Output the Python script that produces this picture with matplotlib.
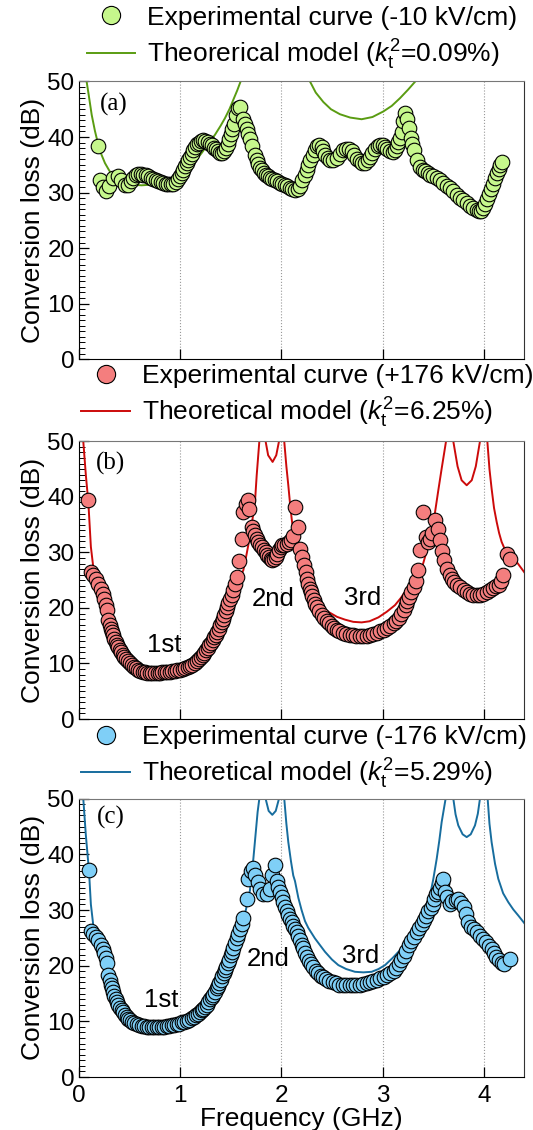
import matplotlib
matplotlib.use("Agg")
import matplotlib.pyplot as plt
from matplotlib.ticker import MultipleLocator

plt.rcParams['font.family'] = ['Liberation Sans', 'DejaVu Sans']
plt.rcParams['mathtext.fontset'] = 'custom'
plt.rcParams['mathtext.rm'] = 'Liberation Sans'
plt.rcParams['mathtext.it'] = 'Liberation Sans:italic'

# ---- (a) -10 kV/cm ----
exp_a_f = [0.193, 0.21, 0.243, 0.27, 0.30, 0.341, 0.384, 0.42, 0.457, 0.49, 0.515, 0.539, 0.563,
           0.588, 0.612, 0.637, 0.662, 0.687, 0.711, 0.736, 0.761, 0.786, 0.81, 0.835, 0.86,
           0.885, 0.91, 0.934, 0.958, 0.983, 1.0, 1.016, 1.033, 1.049, 1.066, 1.082, 1.099,
           1.115, 1.132, 1.148, 1.168, 1.187, 1.208, 1.23, 1.251, 1.272, 1.292, 1.312, 1.332,
           1.352, 1.373, 1.394, 1.415, 1.437, 1.455, 1.47, 1.487, 1.503, 1.517, 1.53, 1.553,
           1.575, 1.592, 1.625, 1.642, 1.658, 1.675, 1.691, 1.714, 1.74, 1.757, 1.773, 1.79,
           1.806, 1.825, 1.845, 1.866, 1.888, 1.912, 1.937, 1.962, 1.987, 2.01, 2.036, 2.06,
           2.085, 2.11, 2.135, 2.16, 2.184, 2.208, 2.233, 2.25, 2.266, 2.288, 2.309, 2.33,
           2.349, 2.374, 2.398, 2.415, 2.431, 2.456, 2.48, 2.513, 2.546, 2.58, 2.612, 2.642,
           2.671, 2.695, 2.718, 2.748, 2.777, 2.8, 2.826, 2.851, 2.876, 2.9, 2.925, 2.95,
           2.975, 3.0, 3.024, 3.048, 3.073, 3.098, 3.123, 3.14, 3.155, 3.172, 3.188, 3.205,
           3.221, 3.244, 3.26, 3.277, 3.294, 3.31, 3.337, 3.37, 3.395, 3.419, 3.444, 3.469,
           3.5, 3.535, 3.567, 3.6, 3.633, 3.666, 3.699, 3.732, 3.765, 3.798, 3.83, 3.863,
           3.896, 3.929, 3.95, 3.969, 3.99, 4.012, 4.033, 4.055, 4.075, 4.094, 4.11, 4.127,
           4.145, 4.16, 4.18]
exp_a_db = [38.3, 32.2, 31.0, 30.3, 31.2, 32.7, 33.0, 32.2, 31.3, 31.4, 32.1, 32.7, 33.2,
            33.4, 33.4, 33.2, 33.1, 32.9, 32.7, 32.5, 32.3, 32.0, 31.9, 31.7, 31.6,
            31.5, 31.5, 31.6, 31.9, 32.4, 32.9, 33.5, 34.1, 34.7, 35.3, 35.8, 36.4,
            37.0, 37.6, 38.2, 38.7, 39.0, 39.3, 39.4, 39.3, 39.1, 38.8, 38.5, 38.1,
            37.8, 37.5, 37.2, 37.1, 37.4, 38.1, 38.8, 39.7, 40.6, 41.4, 42.3, 43.9,
            45.2, 45.4, 43.3, 42.3, 41.4, 40.5, 39.7, 38.4, 36.8, 35.9, 35.1, 34.5,
            34.0, 33.5, 33.2, 32.9, 32.6, 32.4, 32.2, 32.0, 31.8, 31.6, 31.4, 31.1,
            30.9, 30.6, 30.5, 30.6, 31.2, 32.2, 33.1, 34.0, 35.0, 35.9, 36.8, 37.6,
            38.3, 38.5, 38.2, 37.5, 36.8, 36.2, 35.9, 35.9, 36.2, 36.9, 37.6, 37.9,
            37.8, 37.4, 36.8, 36.1, 35.6, 35.3, 35.4, 35.8, 36.4, 37.1, 37.8, 38.3,
            38.5, 38.5, 38.2, 37.8, 37.4, 37.3, 37.7, 38.3, 39.1, 39.9, 40.9, 42.8,
            44.3, 43.3, 41.6, 39.8, 38.7, 37.7, 35.9, 34.6, 34.1, 33.8, 33.5, 33.2,
            32.9, 32.6, 32.2, 31.7, 31.2, 30.8, 30.2, 29.6, 29.1, 28.6, 28.1, 27.6,
            27.2, 26.8, 26.6, 26.7, 27.2, 28.0, 28.9, 29.8, 30.7, 31.6, 32.6, 33.5,
            34.3, 35.0, 35.5]
th_a_f = [0.05, 0.078, 0.10, 0.128, 0.16, 0.193, 0.225, 0.259, 0.30, 0.341, 0.40, 0.457, 0.54,
          0.621, 0.70, 0.80, 0.90, 1.0, 1.1, 1.16, 1.213, 1.28, 1.345, 1.40, 1.444, 1.49,
          1.526, 1.565, 1.598, 1.65, 1.95, 2.23, 2.283, 2.34, 2.415, 2.49, 2.579, 2.68,
          2.793, 2.90, 3.007, 3.09, 3.172, 3.25, 3.337, 3.40, 4.4]
th_a_db = [65, 50, 47.4, 44.0, 41.1, 38.6, 36.8, 35.3, 34.0, 32.9, 32.1, 31.7, 31.4,
           31.3, 31.4, 31.7, 32.3, 33.2, 34.7, 35.9, 37.1, 38.8, 40.4, 42.0, 43.4, 45.1,
           46.7, 48.4, 50, 53, 70, 53, 50, 48.0, 46.3, 45.0, 44.1, 43.5,
           43.2, 43.6, 44.6, 45.6, 47.0, 48.5, 50.3, 54, 90]

# ---- (b) +176 kV/cm ----
exp_b_f = [0.095, 0.121, 0.144, 0.167, 0.193, 0.22, 0.237, 0.252, 0.265, 0.276, 0.292, 0.305,
           0.318, 0.33, 0.341, 0.353, 0.364, 0.378, 0.391, 0.404, 0.417, 0.433, 0.45, 0.466,
           0.483, 0.502, 0.522, 0.542, 0.562, 0.583, 0.605, 0.63, 0.654, 0.678, 0.703, 0.728,
           0.753, 0.778, 0.802, 0.827, 0.852, 0.876, 0.901, 0.925, 0.95, 0.975, 1.0, 1.025,
           1.049, 1.074, 1.098, 1.123, 1.148, 1.168, 1.187, 1.205, 1.223, 1.24, 1.256, 1.272,
           1.289, 1.305, 1.322, 1.337, 1.352, 1.368, 1.384, 1.398, 1.411, 1.424, 1.437, 1.45,
           1.463, 1.478, 1.493, 1.51, 1.526, 1.543, 1.559, 1.582, 1.608, 1.625, 1.652, 1.667,
           1.681, 1.707, 1.724, 1.74, 1.757, 1.773, 1.792, 1.812, 1.828, 1.845, 1.862, 1.878,
           1.895, 1.911, 1.93, 1.947, 1.962, 1.977, 1.993, 2.01, 2.03, 2.052, 2.074, 2.095,
           2.115, 2.14, 2.165, 2.188, 2.208, 2.228, 2.242, 2.255, 2.267, 2.279, 2.292, 2.305,
           2.318, 2.332, 2.352, 2.373, 2.398, 2.423, 2.448, 2.473, 2.498, 2.523, 2.548, 2.574,
           2.607, 2.641, 2.675, 2.708, 2.741, 2.775, 2.808, 2.842, 2.875, 2.909, 2.942, 2.976,
           3.01, 3.043, 3.076, 3.11, 3.135, 3.16, 3.185, 3.21, 3.227, 3.244, 3.264, 3.284,
           3.306, 3.328, 3.351, 3.37, 3.395, 3.43, 3.45, 3.467, 3.49, 3.516, 3.543, 3.566,
           3.59, 3.609, 3.632, 3.665, 3.686, 3.708, 3.73, 3.764, 3.8, 3.83, 3.863, 3.896,
           3.93, 3.961, 3.994, 4.027, 4.06, 4.093, 4.12, 4.149, 4.17, 4.192, 4.225, 4.258]
exp_b_db = [39.4, 26.5, 25.9, 25.3, 24.4, 23.5, 22.6, 21.7, 20.6, 19.6, 17.8, 17.0,
            16.3, 15.7, 15.1, 14.5, 13.9, 13.4, 13.0, 12.5, 12.1, 11.6, 11.2, 10.8,
            10.4, 10.0, 9.7, 9.4, 9.1, 8.9, 8.7, 8.5, 8.4, 8.3, 8.3, 8.3,
            8.3, 8.3, 8.3, 8.4, 8.4, 8.5, 8.5, 8.6, 8.7, 8.8, 8.9, 9.0,
            9.2, 9.4, 9.6, 9.8, 10.1, 10.4, 10.8, 11.1, 11.5, 11.9, 12.4, 12.8,
            13.3, 13.7, 14.2, 14.7, 15.2, 15.7, 16.3, 16.9, 17.5, 18.1, 18.8, 19.5,
            20.2, 20.9, 21.7, 22.4, 23.2, 24.3, 25.6, 28.5, 32.5, 37.3, 38.8, 39.4,
            37.9, 34.6, 33.8, 33.1, 32.5, 31.9, 31.4, 31.0, 30.5, 30.1, 29.6, 29.2,
            28.9, 28.6, 28.8, 29.2, 29.8, 30.4, 30.9, 31.3, 31.4, 31.5, 31.8, 32.2,
            33.0, 38.1, 34.6, 30.7, 29.1, 27.7, 26.4, 25.2, 24.3, 23.4, 22.8, 22.2,
            21.5, 20.8, 20.1, 19.4, 18.8, 18.2, 17.7, 17.3, 16.8, 16.4, 16.1, 15.8,
            15.5, 15.3, 15.2, 15.1, 15.0, 14.9, 15.0, 15.0, 15.1, 15.3, 15.5, 15.8,
            16.1, 16.4, 16.8, 17.3, 17.7, 18.2, 18.9, 19.7, 20.5, 21.3, 22.0, 22.8,
            23.8, 24.9, 26.8, 30.5, 37.2, 32.8, 31.8, 32.5, 33.5, 35.8, 34.3, 32.2,
            30.3, 28.6, 27.1, 25.9, 25.2, 24.7, 24.2, 23.8, 23.3, 22.9, 22.6, 22.4,
            22.3, 22.4, 22.6, 22.9, 23.2, 23.6, 23.9, 24.2, 24.8, 25.9, 29.8, 28.8]
th_b_f = [0.03, 0.045, 0.07, 0.095, 0.12, 0.144, 0.17, 0.2, 0.25, 0.3, 0.35, 0.4, 0.45, 0.5,
          0.6, 0.7, 0.8, 0.9, 1.0, 1.1, 1.2, 1.3, 1.4, 1.5, 1.55, 1.6, 1.625, 1.65, 1.674,
          1.707, 1.74, 1.757, 1.783, 1.80, 1.83, 1.845, 1.87, 1.914, 1.95, 1.977, 1.99, 2.02,
          2.029, 2.05, 2.069, 2.085, 2.102, 2.12, 2.135, 2.165, 2.2, 2.25, 2.30, 2.38, 2.464,
          2.55, 2.628, 2.71, 2.793, 2.87, 2.958, 3.04, 3.122, 3.18, 3.221, 3.3, 3.386, 3.452,
          3.49, 3.518, 3.55, 3.583, 3.626, 3.66, 3.68, 3.698, 3.74, 3.78, 3.83, 3.88, 3.92,
          3.961, 3.99, 4.02, 4.034, 4.055, 4.076, 4.1, 4.126, 4.15, 4.175, 4.22, 4.26, 4.323,
          4.4]
th_b_db = [60, 50, 44.0, 39.0, 31.0, 27.3, 25.8, 24.7, 21.2, 17.9, 15.3, 13.4, 12.0, 10.9,
           9.5, 8.9, 8.7, 8.9, 9.3, 10.0, 11.2, 13.2, 16.4, 20.5, 23.2, 25.8, 26.8, 29.0, 31.3,
           34.9, 39.1, 43.9, 50, 60, 60, 50, 47.5, 46.3, 47.5, 50, 60, 60,
           50, 45.5, 42.1, 39.0, 36.1, 33.5, 31.3, 28.5, 25.9, 23.5, 21.8, 20.3, 19.3,
           18.4, 17.9, 17.5, 17.4, 17.6, 18.3, 19.3, 20.5, 21.8, 22.9, 24.8, 27.1, 31.3,
           34.0, 37.3, 41.2, 45.1, 50, 60, 60, 50, 45.5, 43.0, 42.1, 43.0, 45.5,
           50, 60, 60, 50, 45.0, 41.5, 38.0, 35.5, 33.5, 31.9, 30.0, 29.2, 28.3,
           26.4]

# ---- (c) -176 kV/cm ----
exp_c_f = [0.101, 0.121, 0.144, 0.167, 0.193, 0.22, 0.237, 0.252, 0.265, 0.276, 0.292, 0.305,
           0.318, 0.33, 0.341, 0.353, 0.364, 0.378, 0.391, 0.408, 0.424, 0.44, 0.457, 0.473,
           0.49, 0.51, 0.529, 0.55, 0.572, 0.596, 0.621, 0.645, 0.67, 0.695, 0.72, 0.745,
           0.769, 0.794, 0.818, 0.843, 0.868, 0.892, 0.917, 0.942, 0.967, 0.992, 1.016, 1.04,
           1.065, 1.09, 1.115, 1.135, 1.154, 1.176, 1.197, 1.214, 1.23, 1.247, 1.263, 1.28,
           1.296, 1.313, 1.329, 1.345, 1.361, 1.375, 1.388, 1.403, 1.418, 1.431, 1.444, 1.457,
           1.47, 1.485, 1.5, 1.513, 1.526, 1.543, 1.559, 1.575, 1.592, 1.608, 1.625, 1.658,
           1.674, 1.705, 1.724, 1.74, 1.766, 1.789, 1.822, 1.855, 1.888, 1.904, 1.937, 1.954,
           1.97, 1.987, 2.003, 2.02, 2.036, 2.052, 2.068, 2.085, 2.102, 2.118, 2.135, 2.151,
           2.168, 2.184, 2.2, 2.217, 2.236, 2.255, 2.272, 2.289, 2.314, 2.339, 2.364, 2.389,
           2.414, 2.44, 2.474, 2.507, 2.54, 2.574, 2.607, 2.641, 2.675, 2.708, 2.741, 2.775,
           2.808, 2.842, 2.875, 2.909, 2.942, 2.976, 3.01, 3.043, 3.076, 3.11, 3.135, 3.16,
           3.185, 3.21, 3.235, 3.26, 3.285, 3.311, 3.336, 3.361, 3.386, 3.412, 3.432, 3.452,
           3.474, 3.495, 3.512, 3.529, 3.549, 3.564, 3.583, 3.599, 3.612, 3.632, 3.663, 3.69,
           3.72, 3.747, 3.775, 3.8, 3.82, 3.847, 3.875, 3.9, 3.928, 3.96, 3.99, 4.02,
           4.048, 4.076, 4.098, 4.12, 4.149, 4.175, 4.199, 4.255]
exp_c_db = [37.1, 26.3, 25.7, 25.1, 24.6, 23.8, 23.0, 22.2, 21.3, 20.4, 18.3, 17.4,
            16.5, 15.9, 15.3, 14.6, 14.0, 13.4, 12.9, 12.4, 12.0, 11.6, 11.2, 10.8,
            10.5, 10.2, 9.9, 9.7, 9.5, 9.3, 9.2, 9.1, 9.0, 8.9, 8.9, 8.9,
            8.9, 8.9, 9.0, 9.0, 9.1, 9.2, 9.3, 9.4, 9.5, 9.6, 9.8, 9.9,
            10.1, 10.3, 10.6, 10.8, 11.1, 11.4, 11.7, 12.0, 12.3, 12.6, 13.0, 13.5,
            14.0, 14.4, 14.8, 15.3, 15.9, 16.4, 16.9, 17.5, 18.1, 18.6, 19.2, 19.8,
            20.4, 21.1, 21.9, 22.5, 23.2, 24.0, 24.9, 25.7, 26.6, 27.5, 28.6, 31.9,
            35.5, 37.0, 37.5, 36.3, 35.1, 33.8, 32.9, 32.9, 33.7, 36.3, 38.0, 35.3,
            34.2, 33.2, 32.3, 31.4, 30.6, 29.9, 29.1, 28.4, 27.8, 27.2, 26.6, 26.0,
            25.3, 24.6, 23.8, 23.1, 22.3, 21.5, 20.9, 20.3, 19.7, 19.1, 18.6, 18.2,
            17.9, 17.6, 17.3, 17.0, 16.8, 16.6, 16.5, 16.5, 16.5, 16.5, 16.5, 16.6,
            16.7, 16.9, 17.0, 17.2, 17.4, 17.7, 18.0, 18.3, 18.7, 19.1, 19.6, 20.3,
            21.0, 21.8, 22.7, 23.7, 24.5, 25.2, 26.0, 26.7, 27.4, 28.2, 29.0, 29.8,
            30.4, 31.0, 31.9, 32.8, 33.2, 34.0, 34.9, 35.5, 33.2, 32.4, 31.0, 31.6,
            31.8, 31.9, 31.3, 30.6, 29.3, 27.8, 27.0, 26.6, 26.0, 25.4, 24.8, 24.2,
            23.5, 23.0, 22.2, 21.6, 21.0, 20.5, 20.3, 21.2]
th_c_f = [0.03, 0.045, 0.07, 0.101, 0.12, 0.144, 0.17, 0.2, 0.25, 0.3, 0.35, 0.4, 0.45, 0.5,
          0.6, 0.7, 0.8, 0.9, 1.0, 1.1, 1.2, 1.3, 1.4, 1.5, 1.55, 1.6, 1.65, 1.69, 1.724,
          1.766, 1.783, 1.80, 1.83, 1.845, 1.875, 1.911, 1.945, 1.977, 1.99, 2.02, 2.029,
          2.05, 2.069, 2.095, 2.118, 2.135, 2.168, 2.2, 2.234, 2.266, 2.332, 2.431, 2.5,
          2.563, 2.64, 2.727, 2.81, 2.892, 2.96, 3.024, 3.1, 3.188, 3.27, 3.353, 3.42,
          3.468, 3.50, 3.534, 3.56, 3.583, 3.622, 3.66, 3.68, 3.698, 3.72, 3.747, 3.79,
          3.83, 3.87, 3.912, 3.94, 3.961, 3.99, 4.02, 4.037, 4.055, 4.076, 4.11, 4.142,
          4.19, 4.241, 4.29, 4.34, 4.405]
th_c_db = [60, 50, 43.5, 37.1, 31.0, 27.2, 25.8, 24.8, 22.3, 18.9, 15.9, 13.7, 12.2, 11.1,
           9.9, 9.4, 9.3, 9.5, 9.9, 10.7, 12.0, 14.3, 17.6, 21.9, 24.4, 27.0, 30.0, 33.5, 39.2,
           47.6, 50, 60, 60, 50, 47.8, 47.1, 47.8, 50, 60, 60, 50,
           45.5, 42.2, 38.8, 36.2, 35.2, 32.2, 30.0, 28.0, 26.8, 24.9, 22.5, 21.1,
           20.1, 19.4, 18.9, 18.8, 18.9, 19.4, 20.1, 21.4, 23.1, 25.0, 27.2, 30.4,
           32.6, 35.5, 39.2, 42.5, 45.8, 50, 60, 60, 50, 47.2, 45.2, 43.6,
           43.1, 43.6, 45.2, 47.3, 50, 60, 60, 50, 45.5, 42.2, 38.3, 35.6,
           33.0, 31.4, 30.1, 29.0, 27.5]

panels = [
    dict(ef=exp_a_f, ed=exp_a_db, tf=th_a_f, td=th_a_db, face='#c6f78c', line='#5a9c12',
         lab1='Experimental curve (-10 kV/cm)',
         lab2=r'Theorerical model ($k_\mathrm{t}^{2}$=0.09%)', tag='(a)',
         rect=[0.1477, 0.6822, 0.8362, 0.2457], leg=(0.0176, 1.154), tagpos=(0.079, 0.919)),
    dict(ef=exp_b_f, ed=exp_b_db, tf=th_b_f, td=th_b_db, face='#f47e7e', line='#cc0a0a',
         lab1='Experimental curve (+176 kV/cm)',
         lab2=r'Theoretical model ($k_\mathrm{t}^{2}$=6.25%)', tag='(b)',
         rect=[0.1477, 0.3637, 0.8362, 0.2457], leg=(0.0062, 1.160), tagpos=(0.072, 0.921)),
    dict(ef=exp_c_f, ed=exp_c_db, tf=th_c_f, td=th_c_db, face='#7fcff7', line='#176d9e',
         lab1='Experimental curve (-176 kV/cm)',
         lab2=r'Theoretical model ($k_\mathrm{t}^{2}$=5.29%)', tag='(c)',
         rect=[0.1477, 0.0469, 0.8362, 0.2463], leg=(0.0062, 1.146), tagpos=(0.072, 0.934)),
]

# order labels for (b) and (c)
order_txt = ['1st', '2nd', '3rd']
order_b = [(0.84, 13.3), (1.92, 21.6), (2.80, 21.8)]
order_c = [(0.81, 13.9), (1.87, 21.2), (2.78, 21.8)]

fig = plt.figure(figsize=(5.33, 11.3), dpi=100)

axes = []
for p in panels:
    ax = fig.add_axes(p['rect'])
    axes.append(ax)
    l2, = ax.plot(p['tf'], p['td'], color=p['line'], lw=1.4, zorder=2)
    l1, = ax.plot(p['ef'], p['ed'], 'o', ms=10.5, mfc=p['face'], mec='black', mew=0.8,
                  zorder=3, linestyle='none')
    ax.set_xlim(0, 4.4)
    ax.set_ylim(0, 50)
    ax.set_yticks([0, 10, 20, 30, 40, 50])
    ax.set_xticks([0, 1, 2, 3, 4])
    ax.yaxis.set_minor_locator(MultipleLocator(1))
    ax.tick_params(axis='both', which='major', direction='in', length=7, width=0.9,
                   labelsize=17.5, top=False, right=False)
    ax.tick_params(axis='y', which='minor', direction='in', length=4, width=0.7, right=False)
    ax.tick_params(axis='y', pad=3)
    ax.tick_params(axis='x', pad=6)
    ax.grid(axis='x', linestyle=':', color='#999999', lw=0.8)
    ax.spines['top'].set_color('#777777')
    ax.spines['right'].set_color('#333333')
    ax.set_ylabel('Conversion loss (dB)', fontsize=19, labelpad=2)
    ax.text(p['tagpos'][0], p['tagpos'][1], p['tag'], transform=ax.transAxes,
            fontsize=18, family='Liberation Serif', ha='center', va='center')
    ax.legend([l1, l2], [p['lab1'], p['lab2']], loc='center left',
              bbox_to_anchor=p['leg'], frameon=False, borderpad=0, borderaxespad=0,
              handlelength=1.85, handletextpad=0.45, labelspacing=0.3, fontsize=19,
              markerscale=1.25, numpoints=1)

for ax, pos in [(axes[1], order_b), (axes[2], order_c)]:
    for t, (x, y) in zip(order_txt, pos):
        ax.text(x, y, t, fontsize=18.5, ha='center', va='center', zorder=4)

axes[0].set_xticklabels([])
axes[1].set_xticklabels([])
axes[2].set_xlabel('Frequency (GHz)', fontsize=19, labelpad=0)

fig.savefig('out.png', dpi=100)
